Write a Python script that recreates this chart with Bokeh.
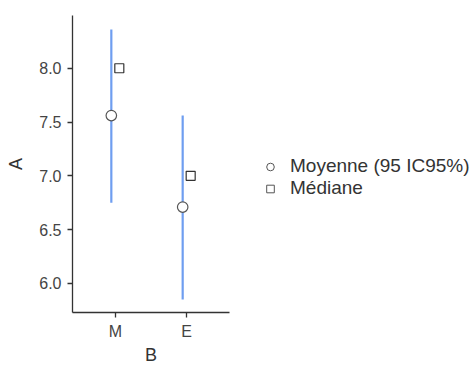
from bokeh.plotting import figure
from bokeh.models import Range1d, FixedTicker, Legend, LegendItem, ColumnDataSource
from bokeh.embed import file_html
from bokeh.resources import INLINE

groups = ["M", "E"]
group_pos = [1, 2]
means = [7.56, 6.71]
ci_low = [6.75, 5.85]
ci_high = [8.36, 7.56]
medians = [8.0, 7.0]
y_ticks = [6.0, 6.5, 7.0, 7.5, 8.0]

dodge = 0.056
FONT = "Liberation Sans"
TXT = "#333333"

src = ColumnDataSource(dict(
    xm=[g - dodge for g in group_pos],
    xd=[g + dodge for g in group_pos],
    mean=means, lo=ci_low, hi=ci_high, med=medians,
))

p = figure(frame_width=157, frame_height=297, output_backend="svg", toolbar_location=None,
           x_range=Range1d(0.4, 2.6), y_range=Range1d(5.73, 8.49),
           min_border_left=72, min_border_right=0, min_border_top=15,
           min_border_bottom=50)

p.segment(x0="xm", y0="lo", x1="xm", y1="hi", source=src,
          line_color="#6f9ef0", line_width=2.2)
r_mean = p.scatter(x="xm", y="mean", source=src, marker="circle", size=10.5,
                   fill_color="white", line_color="#555555", line_width=1.2)
r_med = p.scatter(x="xd", y="med", source=src, marker="square", size=9,
                  fill_color="white", line_color="#333333", line_width=1.2)

p.grid.visible = False
p.outline_line_color = None
p.background_fill_color = "white"
p.border_fill_color = "white"

p.xaxis.ticker = FixedTicker(ticks=group_pos)
p.xaxis.major_label_overrides = {gp: g for gp, g in zip(group_pos, groups)}
p.yaxis.ticker = FixedTicker(ticks=y_ticks)
p.yaxis.major_label_overrides = {t: f"{t:.1f}" for t in y_ticks}

for ax in (p.xaxis[0], p.yaxis[0]):
    ax.axis_line_color = TXT
    ax.axis_line_width = 1.3
    ax.major_tick_line_color = TXT
    ax.major_tick_line_width = 1.3
    ax.major_tick_in = 0
    ax.major_tick_out = 5
    ax.minor_tick_line_color = None
    ax.major_label_text_font = FONT
    ax.major_label_text_font_size = "16px"
    ax.major_label_text_color = "#444444"
    ax.axis_label_text_font = FONT
    ax.axis_label_text_font_size = "18px"
    ax.axis_label_text_font_style = "normal"
    ax.axis_label_text_color = TXT

p.xaxis.axis_label = "B"
p.yaxis.axis_label = "A"
p.xaxis.major_label_standoff = 5
p.xaxis.axis_label_standoff = 2
p.yaxis.major_label_standoff = 6
p.yaxis.axis_label_standoff = 10

leg_c = p.scatter(x=[0], y=[0], marker="circle", size=8, fill_color="white",
                  line_color="#555555", line_width=1, visible=False)
leg_s = p.scatter(x=[0], y=[0], marker="square", size=8, fill_color="white",
                  line_color="#555555", line_width=1, visible=False)

legend = Legend(items=[LegendItem(label="Moyenne (95 IC95%)", renderers=[leg_c]),
                       LegendItem(label="Médiane", renderers=[leg_s])],
                location=(31, 113), orientation="vertical",
                padding=0, margin=16, spacing=-8,
                glyph_width=20, glyph_height=19, label_height=19,
                label_standoff=10, label_text_font=FONT,
                label_text_font_size="19px", label_text_color=TXT,
                border_line_color=None, background_fill_alpha=0)
p.add_layout(legend, "right")

open("out.html", "w").write(file_html(p, INLINE))
